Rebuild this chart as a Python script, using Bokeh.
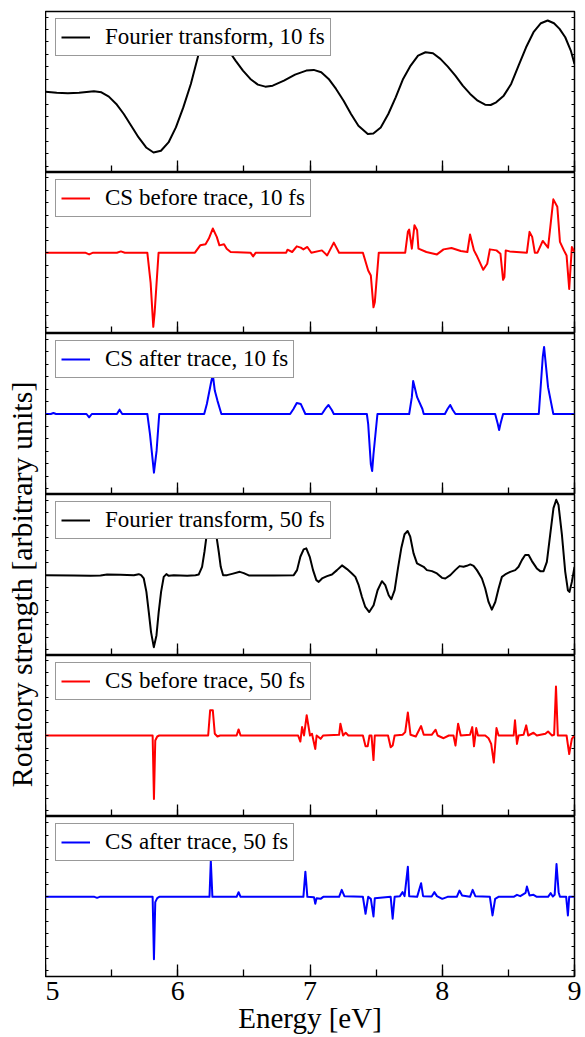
import math
from bokeh.plotting import figure
from bokeh.layouts import column, row
from bokeh.models import (Range1d, LinearAxis, SingleIntervalTicker, Label,
                          Legend, LegendItem)
from bokeh.embed import file_html
from bokeh.resources import INLINE

FONT = "Liberation Serif"

# ---------------- data (energy in eV, rotatory strength in arbitrary units) ----------------
ft10_x = [5.000, 5.085, 5.169, 5.254, 5.366, 5.423, 5.479, 5.535, 5.592, 5.648, 5.704, 5.761,
          5.817, 5.873, 5.930, 5.986, 6.042, 6.099, 6.155, 6.211, 6.273, 6.338, 6.394, 6.437,
          6.493, 6.549, 6.606, 6.662, 6.718, 6.803, 6.887, 6.972, 7.028, 7.085, 7.141, 7.197,
          7.254, 7.310, 7.366, 7.437, 7.479, 7.535, 7.592, 7.648, 7.704, 7.761, 7.817, 7.873,
          7.930, 7.986, 8.042, 8.099, 8.155, 8.211, 8.268, 8.324, 8.366, 8.408, 8.465, 8.521,
          8.577, 8.634, 8.690, 8.746, 8.797, 8.845, 8.887, 8.930, 8.972, 9.000]
ft10_y = [0.0, -1.0, -1.7, -1.0, 0.3, -0.7, -5.0, -12.3, -22.3, -34.0, -45.7, -55.7,
          -60.7, -59.0, -50.7, -35.7, -15.7, 7.7, 36.0, 54.3, 64.3, 54.3, 39.3, 31.0,
          21.0, 12.7, 7.0, 5.0, 6.0, 11.0, 17.0, 21.0, 21.7, 19.3, 12.7, 2.7,
          -9.0, -22.3, -34.0, -42.3, -41.7, -35.7, -22.3, -5.7, 12.7, 26.0, 36.0, 39.3,
          38.3, 32.7, 25.0, 16.0, 6.0, -2.3, -9.0, -13.0, -13.3, -10.7, -4.0, 7.7,
          26.0, 44.3, 59.3, 68.3, 71.0, 68.3, 62.7, 54.3, 41.0, 27.7]

cb10_x = [5.0, 5.30, 5.33, 5.36, 5.54, 5.57, 5.60, 5.77, 5.795, 5.815, 5.825, 5.855,
          6.13, 6.17, 6.21, 6.235, 6.265, 6.295, 6.315, 6.35, 6.37, 6.40, 6.55, 6.57, 6.59,
          6.82, 6.83, 6.865, 6.90, 6.93, 6.95, 6.98, 7.01, 7.09, 7.13, 7.18, 7.22,
          7.40, 7.44, 7.46, 7.48, 7.49, 7.52, 7.72, 7.74, 7.75, 7.77, 7.79, 7.81, 7.82,
          7.88, 7.96, 8.01, 8.07, 8.14, 8.19, 8.21, 8.24, 8.26, 8.31, 8.34, 8.36,
          8.41, 8.44, 8.46, 8.47, 8.48, 8.51, 8.64, 8.66, 8.68, 8.70, 8.72,
          8.76, 8.80, 8.84, 8.87, 8.89, 8.92, 8.94, 8.96, 8.98, 9.0]
cb10_y = [0, 0, -1.7, 0, 0, 1.3, 0, 0, -30, -73.7, -60, 0,
          0, 7.3, 8.3, 14, 24, 15.7, 7.3, 8.3, 4, 0.7, 0, -3.7, 0,
          0, 3, 0.7, 6.3, 5, 3.3, 5.7, 0, 2.3, -2.7, 10, 0,
          0, -17.7, -22.7, -54.3, -49.3, 0, 0, 20.7, 23, 4, 27.3, 22.3, 4,
          0.7, -1.7, 3.3, 4.7, 1.7, 0.7, 18, 2.3, -2.7, -17, -11, 3.3,
          2.3, -1, -27, -24.3, 2.3, 1.3, 0, 20.7, 15.7, 0, 0,
          11.7, 5, 53, 45.7, 10.7, 2.3, -2.7, -36, 5.7, 0.7]

ca10_x = [5.0, 5.04, 5.06, 5.08, 5.31, 5.33, 5.35, 5.54, 5.56, 5.58, 5.77, 5.79, 5.82, 5.84,
          5.86, 6.20, 6.22, 6.25, 6.265, 6.28, 6.30, 6.33, 6.85, 6.875, 6.90, 6.93, 6.965,
          7.09, 7.115, 7.14, 7.165, 7.18, 7.43, 7.44, 7.46, 7.47, 7.48, 7.51, 7.75, 7.77,
          7.78, 7.81, 7.85, 7.86, 8.02, 8.04, 8.06, 8.08, 8.10, 8.40, 8.42, 8.43, 8.44,
          8.46, 8.73, 8.76, 8.77, 8.80, 8.84, 9.0]
ca10_y = [0, 0, 1, 0, 0, -3.3, 0, 0, 4.3, 0, 0, -20, -58.3, -36.7,
          0, 0, 10, 30, 39.3, 23.3, 13.3, 0, 0, 5, 11, 10, 0,
          0, 5, 9, 4, 0, 0, -10, -50, -56.7, -40, 0, 0, 16.7,
          32.7, 16.7, 5, 0, 0, 5, 9, 4, 0, 0, -10, -16, -10,
          0, 0, 56.7, 66.7, 26.7, 0, 0]

ft50_x = [5.000, 5.214, 5.340, 5.416, 5.466, 5.567, 5.668, 5.705, 5.723, 5.743,
          5.763, 5.781, 5.798, 5.819, 5.839, 5.856, 5.874, 5.894, 5.914, 5.932,
          5.970, 6.071, 6.134, 6.159, 6.184, 6.202, 6.217, 6.234, 6.254, 6.274,
          6.292, 6.310, 6.325, 6.343, 6.373, 6.411, 6.469, 6.499, 6.537, 6.600,
          6.725, 6.877, 6.902, 6.927, 6.952, 6.972, 6.998, 7.023, 7.048, 7.066,
          7.091, 7.129, 7.166, 7.204, 7.242, 7.280, 7.317, 7.343, 7.368, 7.393,
          7.418, 7.448, 7.481, 7.511, 7.544, 7.569, 7.595, 7.615, 7.640, 7.665,
          7.690, 7.715, 7.738, 7.758, 7.783, 7.809, 7.834, 7.859, 7.884, 7.922,
          7.960, 7.998, 8.023, 8.061, 8.098, 8.131, 8.161, 8.186, 8.212, 8.237,
          8.262, 8.300, 8.325, 8.350, 8.375, 8.401, 8.426, 8.451, 8.476, 8.514,
          8.552, 8.577, 8.602, 8.627, 8.653, 8.678, 8.715, 8.741, 8.766, 8.791,
          8.816, 8.841, 8.862, 8.879, 8.905, 8.930, 8.950, 8.962, 8.980, 9.000]
ft50_y = [0, -0.3, -0.7, -0.3, 0.7, 0.3, 0, 1, 0, -3.3,
          -16.7, -36.7, -56.7, -71.7, -60, -36.7, -16.7, -1.7, 1, -0.7,
          0, -0.7, 0, 0.7, 8.3, 23.3, 38.3, 52, 58, 52,
          39.3, 23.3, 8.3, 0, 0, 1.3, 3.3, 2, -0.3, -0.3,
          -0.3, 0, 5, 18.3, 25.7, 26.7, 18.3, 5, -5, -6.7,
          -3.3, -1, 0.7, 5, 9.7, 6, 1.7, -1.7, -10, -21.7,
          -31.7, -36.7, -30, -15, -6, -10, -20, -24, -15, 6.7,
          26.7, 40.7, 44, 38.3, 21.7, 11.7, 10, 8.3, 5, 4,
          1.7, -2.7, -3.3, 0, 5, 9, 8.3, 9.3, 10.7, 9.3,
          5, -3.3, -13.3, -26.7, -34.3, -26.7, -13.3, -1.7, 0.7, 3.3,
          5, 8.3, 15, 20, 20, 14, 6.7, 4, 4, 13.3,
          40, 66.7, 75, 70, 40, 3.3, -15, -16.7, -6.7, 8.3]

cb50_x = [5.0, 5.81, 5.82, 5.83, 5.845, 5.86, 6.23, 6.245, 6.265, 6.28, 6.30, 6.32, 6.445,
          6.46, 6.475, 6.91, 6.927, 6.94, 6.955, 6.975, 7.0, 7.015, 7.04, 7.05, 7.08, 7.10,
          7.22, 7.23, 7.25, 7.27, 7.29, 7.40, 7.42, 7.436, 7.45, 7.465, 7.48, 7.49, 7.59,
          7.61, 7.625, 7.64, 7.70, 7.72, 7.74, 7.76, 7.80, 7.84, 7.86, 7.92, 7.95, 7.965,
          8.01, 8.05, 8.085, 8.10, 8.12, 8.14, 8.21, 8.227, 8.24, 8.257, 8.27, 8.325, 8.35,
          8.37, 8.39, 8.41, 8.426, 8.54, 8.55, 8.565, 8.577, 8.615, 8.635, 8.65, 8.69, 8.715,
          8.78, 8.80, 8.83, 8.846, 8.86, 8.874, 8.94, 8.96, 8.98, 9.0]
cb50_y = [0, 0, -62.7, -5, -1, 0, 0, 25, 25, 1.7, -1, 0, 0,
          6, 0, 0, -6, 8.3, 0, 20, 0, 1.7, -13.3, 0, -3.3, 0,
          0.7, 11.7, 0, 2.7, 0, 0, -10.7, -10.7, 0, 0, -24.3, 0, 0,
          -11.7, -10, 0, 0.7, 3.3, 22.7, 0.7, -1, 9.3, 0.7, 0.7, 5.7, 0,
          -2.7, 0, 0, -10, 11.7, 0, 0.7, 8.3, -10.7, 7.3, 0, 0, -2.7,
          -8.3, -26.7, 7.3, 0, 0, 15, -8.3, 0, 0.7, 10, 0, 2.7, 0,
          1.7, 4, 0, 0.7, 48.3, 0, 0, -18.3, -3.3, 0]

ca50_x = [5.0, 5.37, 5.39, 5.41, 5.81, 5.82, 5.83, 5.845, 5.86, 6.24, 6.25, 6.262, 6.445,
          6.46, 6.475, 6.95, 6.965, 6.98, 7.03, 7.04, 7.05, 7.08, 7.10, 7.22, 7.24, 7.26,
          7.40, 7.42, 7.44, 7.46, 7.48, 7.49, 7.61, 7.625, 7.64, 7.68, 7.70, 7.715, 7.74,
          7.75, 7.81, 7.84, 7.855, 7.92, 7.94, 7.96, 8.0, 8.04, 8.11, 8.13, 8.15, 8.21,
          8.23, 8.25, 8.36, 8.38, 8.40, 8.425, 8.54, 8.565, 8.59, 8.63, 8.64, 8.66, 8.69,
          8.715, 8.80, 8.82, 8.836, 8.85, 8.864, 8.88, 8.89, 8.937, 8.95, 8.96, 9.0]
ca50_y = [0, 0, -1, 0, 0, -62.7, -5.3, -1.3, 0, 0, 36.3, 0, 0,
          4.7, 0, 0, 25.3, 0, -0.3, -7, -1.3, -2, 0, 0, 7, 0.7,
          0, -17, 0, -2, -19.7, -1.3, 0, -22, 0, 0.7, 4.7, 0.7, 30.3,
          0.7, 0, 13.7, 0.7, 0.3, 4.7, 0.7, -2, 0, 0, 6.3, 1.3, 0,
          7, 0.7, 0, -18.7, -2, 0, 0, 2, 0.7, 4, 10.3, 1.3, 2,
          0, 0, 3.7, 0.3, 2, 33, 4.7, 0, 0, -18.7, 0, 0]

labels = ["Fourier transform, 10 fs", "CS before trace, 10 fs", "CS after trace, 10 fs",
          "Fourier transform, 50 fs", "CS before trace, 50 fs", "CS after trace, 50 fs"]
series_x = [ft10_x, cb10_x, ca10_x, ft50_x, cb50_x, ca50_x]
series_y = [ft10_y, cb10_y, ca10_y, ft50_y, cb50_y, ca50_y]
colors = ["black", "red", "blue", "black", "red", "blue"]
y_limits = [(-80.7, 80.0), (-80.3, 79.7), (-80.0, 80.0), (-80.0, 80.3), (-80.0, 79.0), (-80.0, 80.7)]
x_limits = (5, 9)
x_label = "Energy [eV]"
y_label = "Rotatory strength [arbitrary units]"

# ---------------- layout ----------------
FRAME_W = 529
frame_heights = [161, 161, 161, 161, 161, 160]
x_range = Range1d(*x_limits)


def hide_labels(ax):
    ax.major_label_text_font_size = "0px"
    ax.major_label_text_color = None
    ax.major_label_standoff = 0


panels = []
for i in range(6):
    fh = frame_heights[i]
    last = (i == 5)
    p = figure(frame_width=FRAME_W, frame_height=fh, x_range=x_range,
               y_range=Range1d(*y_limits[i]), output_backend="svg", toolbar_location=None,
               min_border_left=0, min_border_right=11,
               min_border_top=11 if i == 0 else 0, min_border_bottom=0,
               background_fill_color="white", border_fill_color="white")
    p.grid.grid_line_color = None
    p.outline_line_color = "black"
    p.outline_line_width = 1.5

    xa = p.xaxis[0]
    xa.ticker = SingleIntervalTicker(interval=1, num_minor_ticks=2)
    xa.major_tick_in = 12
    xa.major_tick_out = 0
    xa.minor_tick_in = 7
    xa.minor_tick_out = 0
    xa.major_tick_line_width = 1.3
    xa.minor_tick_line_width = 1.3
    xa.major_tick_line_color = "black"
    xa.minor_tick_line_color = "black"
    xa.axis_line_color = None
    if last:
        xa.axis_label = x_label
        xa.axis_label_text_font = FONT
        xa.axis_label_text_font_size = "29px"
        xa.axis_label_text_font_style = "normal"
        xa.axis_label_text_color = "black"
        xa.axis_label_standoff = -1
        xa.major_label_text_font = FONT
        xa.major_label_text_font_size = "28px"
        xa.major_label_text_color = "black"
        xa.major_label_standoff = 5
    else:
        hide_labels(xa)

    ya = p.yaxis[0]
    ya_r = LinearAxis()
    p.add_layout(ya_r, "right")
    for ax in (ya, ya_r):
        ax.ticker = SingleIntervalTicker(interval=12.4, num_minor_ticks=0)
        ax.major_tick_in = 3
        ax.major_tick_out = 0
        ax.major_tick_line_width = 1
        ax.major_tick_line_color = "black"
        ax.minor_tick_line_color = None
        ax.axis_line_color = None
        hide_labels(ax)

    r = p.line(series_x[i], series_y[i], line_color=colors[i], line_width=2,
               line_join="round")
    leg = Legend(items=[LegendItem(label=labels[i], renderers=[r])],
                 location=(10, fh - 45), orientation="vertical",
                 label_text_font=FONT, label_text_font_size="23px", label_text_color="black",
                 glyph_width=29, glyph_height=20, label_height=20, label_standoff=15,
                 padding=5, margin=0, spacing=0,
                 border_line_color="#333333", border_line_width=1.2,
                 background_fill_color="white", background_fill_alpha=1.0)
    p.add_layout(leg)
    panels.append(p)

# y-axis title spanning the stacked panels
lab = figure(width=45, height=1037, x_range=Range1d(0, 45), y_range=Range1d(0, 1037),
             output_backend="svg", toolbar_location=None, min_border=0,
             x_axis_location=None, y_axis_location=None)
lab.grid.grid_line_color = None
lab.outline_line_color = None
lab.add_layout(Label(x=21, y=1037 - 584, text=y_label, angle=math.pi / 2,
                     text_align="center", text_baseline="alphabetic",
                     text_font=FONT, text_font_size="30px", text_color="black"))

layout = row(lab, column(*panels, spacing=0), spacing=0)
open("out.html", "w").write(file_html(layout, INLINE))
